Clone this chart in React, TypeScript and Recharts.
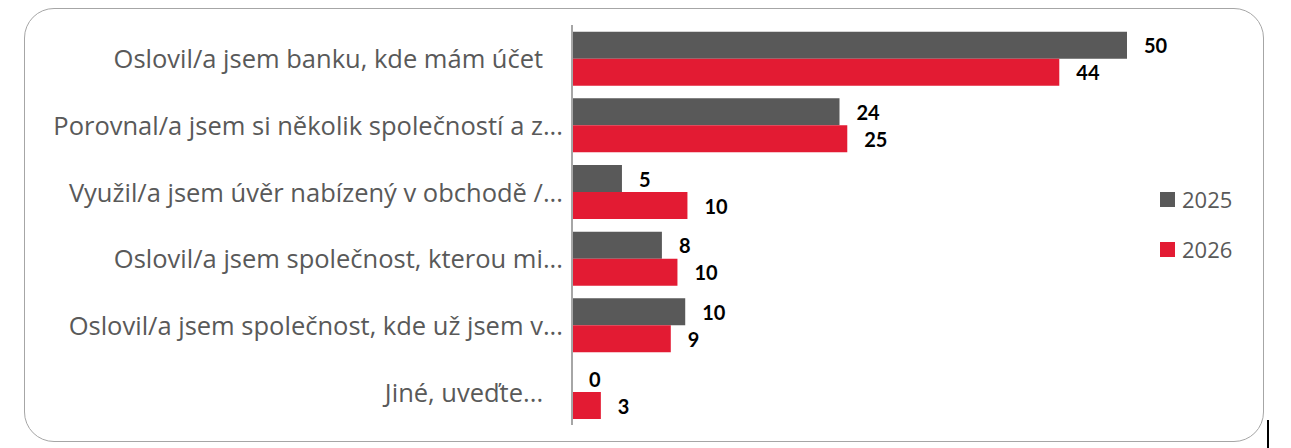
import { Bar, BarChart, LabelList, XAxis, YAxis } from "recharts";

const CATEGORIES = [
  "Oslovil/a jsem banku, kde mám účet   ",
  "Porovnal/a jsem si několik společností a z...",
  "Využil/a jsem úvěr nabízený v obchodě /...",
  "Oslovil/a jsem společnost, kterou mi...",
  "Oslovil/a jsem společnost, kde už jsem v...",
  "Jiné, uveďte...   ",
];
const VALUES_2025 = [50, 24.1, 4.5, 8.1, 10.2, 0];
const VALUES_2026 = [43.9, 24.8, 10.4, 9.5, 8.9, 2.6];
const SERIES = [
  { key: "y2025", name: "2025", color: "#595959" },
  { key: "y2026", name: "2026", color: "#E31B33" },
];

const data = CATEGORIES.map((name, i) => ({ name, y2025: VALUES_2025[i], y2026: VALUES_2026[i] }));

const LABEL_FONT = "'Open Sans', 'Noto Sans', sans-serif";
const VALUE_FONT = "Lato, 'Open Sans', sans-serif";

function CategoryTick(props: any) {
  const { x, y, payload } = props;
  return (
    <text
      x={x - 1}
      y={y}
      textAnchor="end"
      dominantBaseline="central"
      fill="#595959"
      fontSize={25.5}
      fontFamily={LABEL_FONT}
      style={{ whiteSpace: "pre" }}
    >
      {payload.value}
    </text>
  );
}

// draws the value even for zero-length bars
function ValueLabel(props: any) {
  const { x, y, width, height, value } = props;
  return (
    <text
      x={x + width + 17}
      y={y + height / 2}
      dominantBaseline="central"
      fill="#000"
      fontSize={20}
      fontWeight="bold"
      fontFamily={VALUE_FONT}
    >
      {Math.round(value)}
    </text>
  );
}

export default function App() {
  return (
    <div style={{ position: "absolute", left: 0, top: 0, width: 1291, height: 448, background: "#fff" }}>
      <div
        style={{
          position: "absolute",
          left: 24,
          top: 8,
          width: 1240,
          height: 434,
          boxSizing: "border-box",
          border: "1.5px solid #A6A6A6",
          borderRadius: 30,
        }}
      />
      <div style={{ position: "absolute", left: 1267, top: 420, width: 1.5, height: 28, background: "#000" }} />
      <BarChart
        width={1291}
        height={448}
        data={data}
        layout="vertical"
        margin={{ top: 25, right: 164, bottom: 23, left: 0 }}
        barCategoryGap="10%"
        barGap={0}
        style={{ position: "absolute", left: 0, top: 0 }}
      >
        <XAxis type="number" domain={[0, 50]} hide />
        <YAxis
          type="category"
          dataKey="name"
          width={572}
          axisLine={{ stroke: "#A6A6A6", strokeWidth: 2 }}
          tickLine={false}
          tick={<CategoryTick />}
          interval={0}
        />
        {SERIES.map((s) => (
          <Bar
            key={s.key}
            dataKey={s.key}
            name={s.name}
            fill={s.color}
            minPointSize={(v: number) => (v === 0 ? 0.01 : 0)}
            isAnimationActive={false}
          >
            <LabelList dataKey={s.key} content={<ValueLabel />} />
          </Bar>
        ))}
      </BarChart>
      {SERIES.map((s, i) => (
        <div
          key={s.key}
          style={{
            position: "absolute",
            left: 1160,
            top: 184 + i * 50,
            display: "flex",
            alignItems: "center",
            fontFamily: LABEL_FONT,
            fontSize: 22,
            color: "#595959",
          }}
        >
          <span style={{ width: 15, height: 15, background: s.color, marginRight: 7, display: "inline-block" }} />
          {s.name}
        </div>
      ))}
    </div>
  );
}
